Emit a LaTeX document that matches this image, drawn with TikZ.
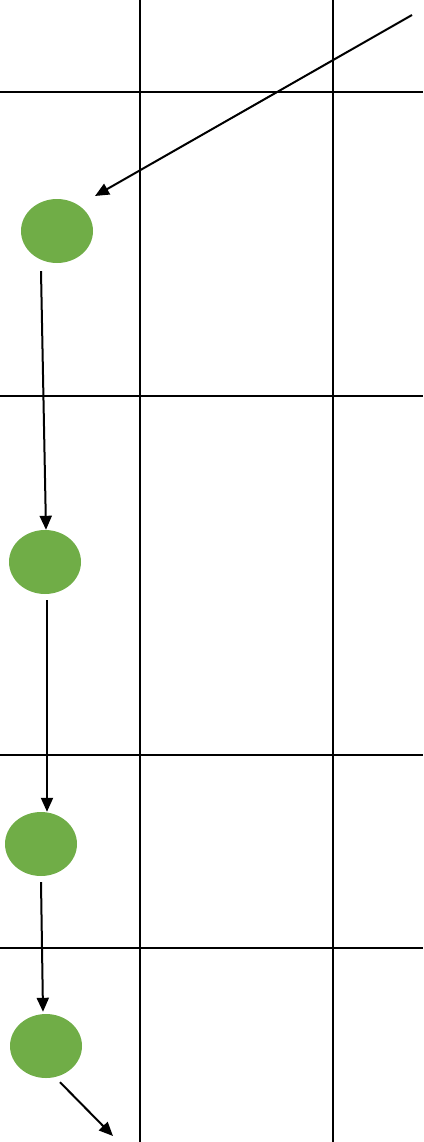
\documentclass[tikz,border=0pt]{standalone}
\usepackage{tikz}
\usetikzlibrary{positioning, arrows.meta, shapes.geometric}
\definecolor{NodeGreen}{RGB}{112,173,71}

\begin{document}
\begin{tikzpicture}[x=1pt, y=-1pt,
    state/.style={ellipse, fill=NodeGreen, minimum width=72pt, minimum height=64pt, inner sep=0pt},
    flow/.style={-{Triangle[length=14pt, width=12pt]}, line width=2pt},
    grid line/.style={line width=1.8pt}]
          \useasboundingbox (0,0) rectangle (423,1142);
          % lanes
          \draw[grid line] (140,0) -- (140,1142);
          \draw[grid line] (333,0) -- (333,1142);
          \draw[grid line] (0,92) -- (423,92);
          \draw[grid line] (0,396) -- (423,396);
          \draw[grid line] (0,755) -- (423,755);
          \draw[grid line] (0,948) -- (423,948);
          % states
          \node[state] (s1) at (57,231) {};
          \node[state] (s2) at (45,562) {};
          \node[state] (s3) at (41,844) {};
          \node[state] (s4) at (46,1046) {};
          \coordinate (entry) at (412,15);
          \coordinate (exit) at (113,1136);
          % transitions
          \draw[flow] (entry) -- ([shift={(38,-35)}]s1.center);
          \draw[flow] ([shift={(-16,8)}]s1.south) -- ([xshift=1]s2.north);
          \draw[flow] ([shift={(2,6)}]s2.south) -- ([xshift=6]s3.north);
          \draw[flow] ([shift={(0,6)}]s3.south) -- ([shift={(-3,-2)}]s4.north);
          \draw[flow] ([shift={(14,4)}]s4.south) -- (exit);
        \end{tikzpicture}
\end{document}
